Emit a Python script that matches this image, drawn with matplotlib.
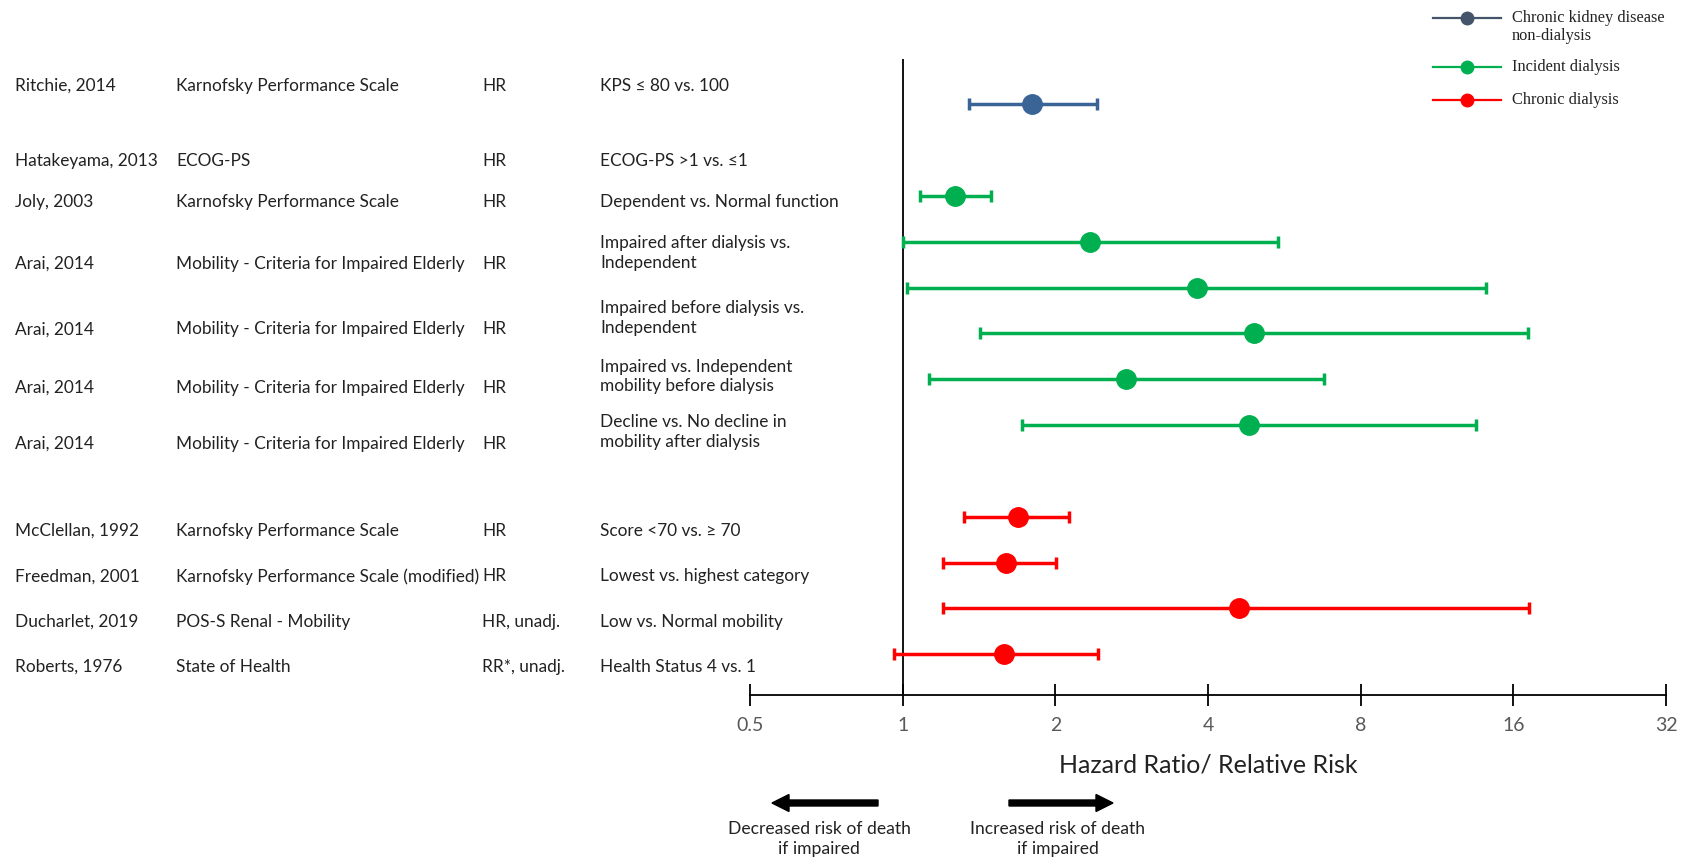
import matplotlib
matplotlib.use('Agg')
import matplotlib.pyplot as plt
from matplotlib import transforms
import numpy as np

plt.rcParams['font.family'] = ['Lato', 'DejaVu Sans']

# study table
authors = ['Ritchie, 2014', 'Hatakeyama, 2013', 'Joly, 2003', 'Arai, 2014', 'Arai, 2014',
           'Arai, 2014', 'Arai, 2014', 'McClellan, 1992', 'Freedman, 2001',
           'Ducharlet, 2019', 'Roberts, 1976']
measures = ['Karnofsky Performance Scale', 'ECOG-PS', 'Karnofsky Performance Scale',
            'Mobility - Criteria for Impaired Elderly', 'Mobility - Criteria for Impaired Elderly',
            'Mobility - Criteria for Impaired Elderly', 'Mobility - Criteria for Impaired Elderly',
            'Karnofsky Performance Scale', 'Karnofsky Performance Scale (modified)',
            'POS-S Renal - Mobility', 'State of Health']
effects = ['HR', 'HR', 'HR', 'HR', 'HR', 'HR', 'HR', 'HR', 'HR', 'HR, unadj.', 'RR*, unadj.']
comparisons = ['KPS ≤ 80 vs. 100', 'ECOG-PS >1 vs. ≤1', 'Dependent vs. Normal function',
               'Impaired after dialysis vs.\nIndependent', 'Impaired before dialysis vs.\nIndependent',
               'Impaired vs. Independent\nmobility before dialysis',
               'Decline vs. No decline in\nmobility after dialysis',
               'Score <70 vs. ≥ 70', 'Lowest vs. highest category', 'Low vs. Normal mobility',
               'Health Status 4 vs. 1']

# estimates (as drawn)
ckd_est = [1.80]
ckd_lo = [1.35]
ckd_hi = [2.415]
inc_est = [1.27, 2.34, 3.81, 4.94, 2.755, 4.82]
inc_lo = [1.08, 1.00, 1.021, 1.42, 1.129, 1.722]
inc_hi = [1.494, 5.50, 14.11, 17.07, 6.77, 13.52]
chr_est = [1.687, 1.597, 4.61, 1.581]
chr_lo = [1.322, 1.202, 1.202, 0.960]
chr_hi = [2.129, 2.004, 17.17, 2.429]

ticks = [0.5, 1, 2, 4, 8, 16, 32]
tick_labels = ['0.5', '1', '2', '4', '8', '16', '32']

# layout: plot rows and text rows (row units)
ckd_rows = [0]
inc_rows = [2, 3, 4, 5, 6, 7]
chr_rows = [9, 10, 11, 12]
text_rows = [-0.40, 1.24, 2.14, 3.48, 4.91, 6.18, 7.41, 9.31, 10.30, 11.29, 12.28]
comp_rows = [-0.40, 1.24, 2.14, 3.24, 4.67, 5.94, 7.16, 9.31, 10.30, 11.29, 12.28]

W, H = 1690, 861
fig = plt.figure(figsize=(W / 100, H / 100), dpi=100)
ax = fig.add_axes([750 / W, 1 - 695 / H, (1666 - 750) / W, (695 - 59) / H])

blue = '#3A6496'
green = '#00B050'
red = '#FF0000'

for est, lo, hi, rows, c in [(ckd_est, ckd_lo, ckd_hi, ckd_rows, blue),
                             (inc_est, inc_lo, inc_hi, inc_rows, green),
                             (chr_est, chr_lo, chr_hi, chr_rows, red)]:
    est = np.array(est)
    err = [est - np.array(lo), np.array(hi) - est]
    ax.errorbar(est, rows, xerr=err, fmt='o', color=c, ms=14, elinewidth=2.5,
                capsize=4, capthick=2.5, clip_on=False, zorder=3)

ax.axvline(1, color='black', lw=1.3, zorder=2)
ax.set_xscale('log', base=2)
ax.set_xlim(0.5, 32)
ax.set_ylim(12.89, -0.99)
ax.set_xticks(ticks)
ax.set_xticklabels(tick_labels)
ax.minorticks_off()
ax.set_yticks([])
for s in ['left', 'top', 'right']:
    ax.spines[s].set_visible(False)
ax.spines['bottom'].set_linewidth(1.3)
ax.tick_params(axis='x', direction='inout', length=16, width=1.3, pad=8,
               labelsize=14, labelcolor='#595959')
ax.set_xlabel('Hazard Ratio/ Relative Risk', fontsize=18, color='#222222', labelpad=14)

# table text
tr = transforms.blended_transform_factory(fig.transFigure, ax.transData)
col_x = [15 / W, 176 / W, 482 / W, 600 / W]
fs = 12.4
for i in range(len(authors)):
    ax.text(col_x[0], text_rows[i], authors[i], transform=tr, va='center', fontsize=fs, color='#222222')
    ax.text(col_x[1], text_rows[i], measures[i], transform=tr, va='center', fontsize=fs, color='#222222')
    ax.text(col_x[2], text_rows[i], effects[i], transform=tr, va='center', fontsize=fs, color='#222222')
    ax.text(col_x[3], comp_rows[i], comparisons[i], transform=tr, va='center', fontsize=fs,
            color='#222222', linespacing=1.3)

# overlay in pixel coordinates for legend and arrows
ov = fig.add_axes([0, 0, 1, 1], facecolor='none')
ov.set_xlim(0, W)
ov.set_ylim(H, 0)
ov.axis('off')

leg_items = [('Chronic kidney disease', '#44546A', 18),
             ('Incident dialysis', '#00B050', 67),
             ('Chronic dialysis', '#FF0000', 100)]
for lab, c, y in leg_items:
    ov.plot([1433, 1501], [y, y], color=c, lw=1.6)
    ov.plot([1467], [y], 'o', color=c, ms=9)
    ov.text(1512, y, lab, va='center', ha='left', fontsize=11.8, color='#222222',
            family=['Liberation Serif'])
ov.text(1512, 36, 'non-dialysis', va='center', ha='left', fontsize=11.8, color='#222222',
        family=['Liberation Serif'])

ov.arrow(878, 803, -106, 0, width=6, head_width=17, head_length=17,
         length_includes_head=True, color='black')
ov.arrow(1009, 803, 104, 0, width=6, head_width=17, head_length=17,
         length_includes_head=True, color='black')
ov.text(819, 839, 'Decreased risk of death\nif impaired', ha='center', va='center',
        fontsize=12.6, color='#222222', linespacing=1.35)
ov.text(1058, 839, 'Increased risk of death\nif impaired', ha='center', va='center',
        fontsize=12.6, color='#222222', linespacing=1.35)

fig.savefig('out.png', dpi=100)
